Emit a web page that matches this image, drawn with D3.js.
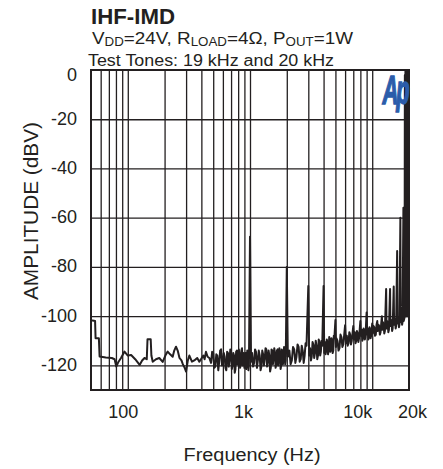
<!DOCTYPE html>
<html>
<head>
<meta charset="utf-8">
<script src="https://cdn.jsdelivr.net/npm/d3@7"></script>
<style>
  body { margin: 0; background: #fff; }
  svg { display: block; font-family: Arial, "Liberation Sans", sans-serif; }
</style>
</head>
<body>
<svg id="chart" width="443" height="469"></svg>
<script>
// values
const yTicks = [0, -20, -40, -60, -80, -100, -120];
const xLabelTicks = [100, 1000, 10000, 20000];
const xLabelText = ['100', '1k', '10k', '20k'];
const xGridTicks = [60, 70, 80, 90, 100, 200, 300, 400, 500, 600, 700, 800, 900,
	1000, 2000, 3000, 4000, 5000, 6000, 7000, 8000, 9000, 10000];

// FFT trace [Hz, dBV]
const lowTrace = [
	[50, -101.8], [51.5, -101.8], [54, -102], [54.5, -109], [58, -109], [58.8, -116.4],
	[66, -116.8], [74, -117], [78, -117.5], [80.5, -120.5], [84, -118.5], [88, -117],
	[94, -114.4], [100, -116], [106.5, -115.8], [115, -117.5], [125, -119.8], [131, -118],
	[137, -117], [143, -117.5], [145, -109.4], [154, -109.4], [156, -116], [160, -118.5],
	[170, -117.5], [181, -117], [193, -118.6], [203, -116], [212, -114.4], [222, -115.5],
	[233, -116.5], [240, -114], [248, -112.4], [256, -114], [265, -117], [275, -118],
	[282, -119.5], [292, -121], [300, -122.5], [310, -118], [319, -116], [335, -118.5],
	[350, -118], [370, -117], [385, -118.5], [397, -117.5], [415, -116], [425, -117.5],
	[436, -114.5], [450, -116.5], [465, -117],
];
const midTrace = [
	[480, -119], [490, -114.5], [500, -115], [510, -121], [520, -120.5], [530, -115.5],
	[540, -116], [550, -122], [560, -118.5], [570, -114], [580, -113.5], [590, -120],
	[600, -119], [610, -115], [620, -116.5], [630, -121], [640, -122], [650, -114.5],
	[660, -115], [670, -120.5], [680, -118], [690, -113.5], [700, -114.5], [710, -121.5],
	[720, -120], [730, -115], [740, -116], [750, -123], [760, -121.5], [770, -114.5],
	[780, -114], [790, -119.5], [800, -118.5], [810, -113.5], [820, -115.5], [830, -121],
	[840, -119.5], [850, -114], [860, -113], [870, -120], [880, -117.5], [890, -115],
	[900, -121], [910, -116], [920, -115], [930, -121.5], [940, -118.5], [950, -114],
	[960, -116], [970, -122], [980, -120], [1000, -67.7], [1020, -118.5],
	[1040, -115], [1060, -120.5], [1080, -119], [1100, -113.5], [1120, -114.5], [1140, -121],
	[1160, -118], [1180, -114], [1200, -116], [1220, -122], [1240, -120.5], [1260, -114],
	[1280, -115.5], [1300, -120], [1320, -117.5], [1340, -113], [1360, -113.5], [1380, -120.5],
	[1400, -118.5], [1420, -114], [1440, -116], [1460, -122.5], [1480, -121], [1500, -113.5],
	[1520, -114], [1540, -119.5], [1560, -117], [1580, -113], [1600, -115], [1620, -121],
	[1640, -119.5], [1660, -114], [1680, -113.5], [1700, -120], [1720, -117.5], [1740, -113],
	[1760, -115], [1780, -121.5], [1800, -120], [1820, -113.5], [1840, -114.5], [1860, -119.5],
	[1880, -117], [1900, -112.5], [1920, -113], [1940, -119.5], [1960, -118],
	[2000, -80], [2040, -116.5],
	[2100, -114], [2150, -119.5], [2200, -118], [2250, -112.5], [2300, -113.5], [2350, -119],
	[2400, -116.5], [2450, -111.5], [2500, -112.5], [2550, -118.5], [2600, -117.5], [2650, -112],
	[2700, -114], [2750, -119], [2800, -116], [2850, -111], [2900, -112], [3000, -87.8], [3050, -116],
	[3100, -113], [3150, -118], [3200, -116.5], [3250, -110.5], [3300, -111.5], [3350, -117],
	[3400, -115], [3450, -110], [3500, -112], [3550, -117.5], [3600, -116], [3650, -109.5],
	[3700, -110.5], [3750, -116], [3800, -114.5], [3850, -110], [3900, -112], [4000, -87.8], [4050, -115],
	[4100, -110.5], [4150, -115.5], [4200, -114], [4250, -109.5], [4300, -111], [4350, -115.5],
	[4400, -113.5], [4450, -108.5], [4500, -109.5], [4550, -114.5], [4600, -113], [4650, -109],
	[4700, -110.5], [4750, -115], [4800, -114], [4850, -108], [4900, -109], [5000, -101.6], [5050, -112.5],
];
const highTrace = [
	[5100, -109], [5200, -110], [5300, -114], [5400, -113], [5500, -107.5], [5600, -108.5],
	[5700, -112.5], [5800, -111.5], [6000, -103.7], [6100, -111],
	[6200, -108], [6300, -112], [6400, -111], [6500, -106.5], [6600, -107.5], [6700, -111.5],
	[6800, -110], [7000, -104], [7100, -109.5],
	[7200, -106.5], [7300, -111], [7400, -110], [7500, -106], [7600, -107], [7700, -110.5],
	[7800, -109], [8000, -102], [8100, -108],
	[8200, -105.5], [8300, -110], [8400, -109], [8500, -105], [8600, -106], [8700, -109.5],
	[8800, -108.5], [9000, -98.5], [9100, -107.5],
	[9200, -105], [9300, -109.5], [9400, -108.5], [9500, -104.5], [9600, -105.5], [9700, -109],
	[9800, -108], [10000, -103], [10100, -107],
	[10250, -104], [10400, -104.5], [10550, -108], [10700, -107.5], [10850, -103.5], [11000, -102], [11100, -106],
	[11250, -103.5], [11400, -104], [11550, -107.5], [11700, -106.5], [11850, -103], [12000, -100], [12100, -105.5],
	[12250, -102.5], [12400, -103.5], [12550, -107], [12700, -106], [13000, -89], [13100, -105],
	[13250, -102], [13400, -103], [13550, -106.5], [13700, -105.5], [14000, -89], [14100, -104],
	[14250, -101.5], [14400, -102.5], [14550, -106], [14700, -105], [15000, -88], [15100, -103.5],
	[15250, -101], [15400, -102], [15550, -105], [15700, -104], [16000, -73.5], [16100, -103],
	[16250, -100.5], [16400, -101.5], [16550, -104.5], [16700, -103.5], [17000, -60], [17100, -102.5],
	[17250, -100], [17400, -101], [17550, -103.5], [17700, -102.5], [18000, -56], [18100, -102],
	// 19 kHz / 20 kHz test tones and their skirts
	[18400, -100.5], [18500, -2], [18600, -100], [18700, 0], [18800, -100], [18900, 0],
	[19000, -100], [19100, 0], [19200, -100], [19300, 0], [19400, -100], [19500, 0],
	[19600, -100], [19700, 0], [19800, -100], [19900, 0], [20000, 0],
];

const ink = '#231f20';
const svg = d3.select('#chart');

const x = d3.scaleLog().domain([50, 20000]).range([91, 409]);
const y = d3.scaleLinear().domain([-130, 0]).range([390, 70]);

// grid
svg.append('g')
	.attr('class', 'grid-x')
	.attr('transform', 'translate(0,390)')
	.call(d3.axisBottom(x).tickValues(xGridTicks).tickSize(-320).tickFormat(''))
	.call((g) => g.select('.domain').remove())
	.selectAll('line')
	.attr('stroke', ink)
	.attr('stroke-width', 1.3);

svg.append('g')
	.attr('class', 'grid-y')
	.attr('transform', 'translate(91,0)')
	.call(d3.axisLeft(y).tickValues(yTicks.slice(1)).tickSize(-318).tickFormat(''))
	.call((g) => g.select('.domain').remove())
	.selectAll('line')
	.attr('stroke', ink)
	.attr('stroke-width', 1.3);

// trace
svg.append('clipPath').attr('id', 'plot-clip')
	.append('rect').attr('x', 91).attr('y', 69).attr('width', 318).attr('height', 321);

const line = d3.line()
	.x((d) => x(d[0]))
	.y((d) => y(d[1]));

svg.append('path')
	.datum(lowTrace.concat(midTrace, highTrace))
	.attr('clip-path', 'url(#plot-clip)')
	.attr('fill', 'none')
	.attr('stroke', ink)
	.attr('stroke-width', 2)
	.attr('stroke-linejoin', 'round')
	.attr('d', line);

// frame
svg.append('rect')
	.attr('x', 91).attr('y', 70).attr('width', 318).attr('height', 320)
	.attr('fill', 'none')
	.attr('stroke', ink)
	.attr('stroke-width', 2);

// y tick labels (0 label sits a bit lower in the original)
const yAxis = svg.append('g')
	.attr('transform', 'translate(77,0)')
	.call(d3.axisLeft(y).tickValues(yTicks).tickSize(0).tickPadding(0)
		.tickFormat((d) => String(d)))
	.call((g) => g.select('.domain').remove());
yAxis.selectAll('text')
	.attr('fill', ink)
	.style('font-size', '18px')
	.attr('font-family', null)
	.attr('dy', (d) => (d === 0 ? '0.6em' : '0.28em'));

// x tick labels, nudged like the original
const xShift = { 100: -5, 1000: -7, 10000: -15, 20000: 3 };
const xAxis = svg.append('g')
	.attr('transform', 'translate(0,405)')
	.call(d3.axisBottom(x).tickValues(xLabelTicks).tickSize(0).tickPadding(0)
		.tickFormat((d, i) => xLabelText[i]))
	.call((g) => g.select('.domain').remove());
xAxis.selectAll('text')
	.attr('fill', ink)
	.attr('font-family', null)
	.style('font-size', '18px')
	.attr('dx', (d) => xShift[d]);

// axis titles
svg.append('text')
	.attr('x', 252).attr('y', 461)
	.attr('text-anchor', 'middle')
	.attr('fill', ink)
	.style('font-size', '18px')
	.attr('textLength', 137)
	.attr('lengthAdjust', 'spacingAndGlyphs')
	.text('Frequency (Hz)');

svg.append('text')
	.attr('transform', 'translate(38,211) rotate(-90)')
	.attr('text-anchor', 'middle')
	.attr('fill', ink)
	.style('font-size', '20px')
	.attr('textLength', 178)
	.attr('lengthAdjust', 'spacingAndGlyphs')
	.text('AMPLITUDE (dBV)');

// heading
svg.append('text')
	.attr('x', 91).attr('y', 24)
	.attr('fill', ink)
	.style('font-size', '22px')
	.style('font-weight', 'bold')
	.attr('textLength', 84)
	.attr('lengthAdjust', 'spacingAndGlyphs')
	.text('IHF-IMD');

const cond = svg.append('text')
	.attr('x', 92).attr('y', 44)
	.attr('fill', ink)
	.style('font-size', '17px')
	.attr('textLength', 261)
	.attr('lengthAdjust', 'spacingAndGlyphs');
const condParts = [['V', false], ['DD', true], ['=24V, R', false], ['LOAD', true],
	['=4Ω, P', false], ['OUT', true], ['=1W', false]];
condParts.forEach(([t, sub], i) => {
	const prevSub = i > 0 && condParts[i - 1][1];
	cond.append('tspan')
		.style('font-size', sub ? '12px' : '17px')
		.attr('dy', sub ? 2 : prevSub ? -2 : 0)
		.text(t);
});

svg.append('text')
	.attr('x', 88).attr('y', 65.5)
	.attr('fill', ink)
	.style('font-size', '16px')
	.attr('textLength', 246)
	.attr('lengthAdjust', 'spacingAndGlyphs')
	.text('Test Tones: 19 kHz and 20 kHz');

// Audio Precision logo
svg.append('text')
	.attr('transform', 'translate(395,104) scale(0.55,1)')
	.attr('text-anchor', 'middle')
	.attr('fill', '#2b5caa')
	.attr('stroke', '#2b5caa')
	.attr('stroke-width', 1.5)
	.style('font-size', '40px')
	.style('font-weight', 'bold')
	.style('font-style', 'italic')
	.style('letter-spacing', '-4px')
	.text('Ap');
</script>
</body>
</html>
